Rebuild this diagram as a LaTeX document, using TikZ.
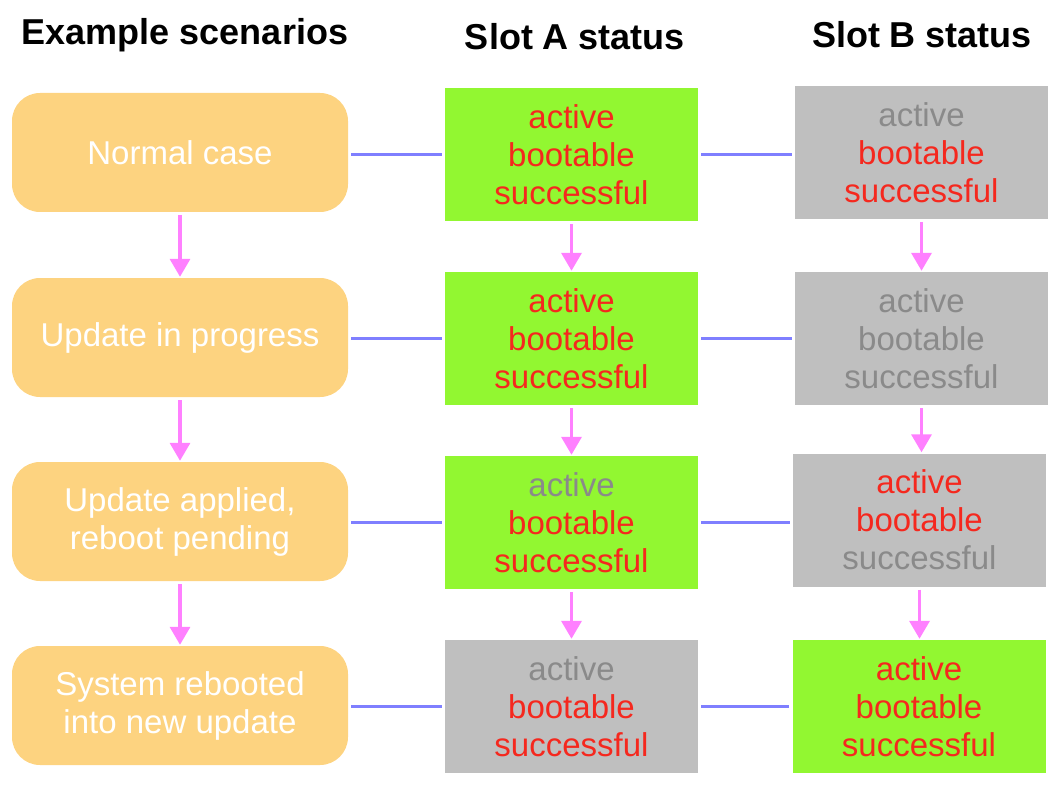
\documentclass[tikz,border=0pt]{standalone}
\usepackage{fontspec}
\setmainfont{Liberation Sans}
\usetikzlibrary{arrows.meta}
\definecolor{scenorange}{HTML}{FDD380}
\definecolor{okgreen}{HTML}{92F731}
\definecolor{offgray}{HTML}{BFBFBF}
\definecolor{onred}{HTML}{F5281E}
\definecolor{offtext}{HTML}{8A8A8A}
\definecolor{linkblue}{HTML}{7F7FFF}
\definecolor{flowpink}{HTML}{FF80FF}
\newcommand{\on}[1]{\textcolor{onred}{#1}}
\newcommand{\off}[1]{\textcolor{offtext}{#1}}
\tikzset{
  scen/.style={fill=scenorange, rounded corners=28pt, minimum width=336pt, minimum height=119pt,
    text=white, align=center, inner sep=0pt, font=\fontsize{33}{38}\selectfont},
  slotbox/.style={minimum width=253pt, minimum height=133pt, align=center, inner sep=0pt,
    font=\fontsize{33}{38}\selectfont},
  slotg/.style={slotbox, fill=okgreen},
  sloty/.style={slotbox, fill=offgray},
  hdr/.style={font=\fontsize{36}{40}\selectfont\bfseries},
  link/.style={draw=linkblue, line width=3.5pt, shorten <=3pt, shorten >=3pt},
  flow/.style={draw=flowpink, line width=3.5pt, shorten <=3pt, shorten >=1pt,
    -{Triangle[width=20pt,length=18pt]}},
}
\begin{document}
\begin{tikzpicture}[x=1pt,y=-1pt]
\useasboundingbox (0,0) rectangle (1064,794);
% headers
\node[hdr] (h0) at (185,35) {Example scenarios};
\node[hdr] (h1) at (575,37) {Slot A status};
\node[hdr] (h2) at (922,35) {Slot B status};
% scenarios
\node[scen] (s1) at (180,152.5) {Normal case};
\node[scen] (s2) at (180,337.5) {Update in progress};
\node[scen] (s3) at (180,521.5) {Update applied,\\reboot pending};
\node[scen] (s4) at (180,705.5) {System rebooted\\into new update};
% slot A
\node[slotg] (a1) at (571.5,154.5) {\on{active}\\\on{bootable}\\\on{successful}};
\node[slotg] (a2) at (571.5,338.5) {\on{active}\\\on{bootable}\\\on{successful}};
\node[slotg] (a3) at (571.5,522.5) {\off{active}\\\on{bootable}\\\on{successful}};
\node[sloty] (a4) at (571.5,706.5) {\off{active}\\\on{bootable}\\\on{successful}};
% slot B
\node[sloty] (b1) at (921.5,152.5) {\off{active}\\\on{bootable}\\\on{successful}};
\node[sloty] (b2) at (921.5,338.5) {\off{active}\\\off{bootable}\\\off{successful}};
\node[sloty] (b3) at (919.5,520) {\on{active}\\\on{bootable}\\\off{successful}};
\node[slotg] (b4) at (919,706.5) {\on{active}\\\on{bootable}\\\on{successful}};
% links
\foreach \i in {1,2,3,4}{
  \draw[link] (s\i.east |- a\i.west) -- (a\i.west);
  \draw[link] (a\i.east) -- (a\i.east -| b\i.west);
}
% flows
\foreach \i/\j in {1/2,2/3,3/4}{
  \draw[flow] (s\i.south) -- (s\j.north);
  \draw[flow] (a\i.south) -- (a\i.south |- a\j.north);
  \draw[flow] (b\i.south) -- (b\i.south |- b\j.north);
}
\end{tikzpicture}
\end{document}
